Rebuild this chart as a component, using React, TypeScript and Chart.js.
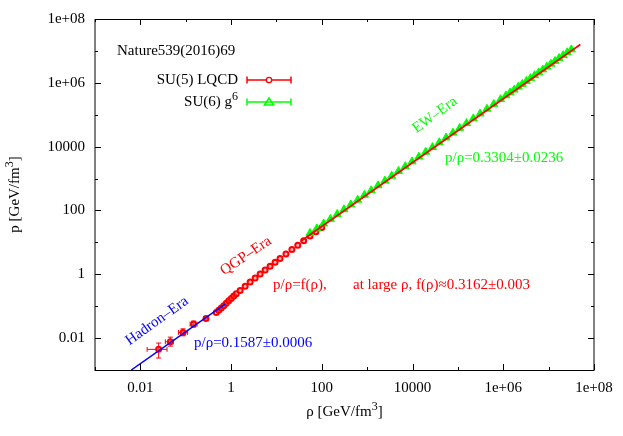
import React, { useEffect, useRef } from "react";
import { Chart, registerables } from "chart.js";
Chart.register(...registerables);

// ---------------- data ----------------
const decadeTicks = [0.001, 0.01, 0.1, 1, 10, 100, 1e3, 1e4, 1e5, 1e6, 1e7, 1e8];
const xTickLabels = ["", "0.01", "", "1", "", "100", "", "10000", "", "1e+06", "", "1e+08"];
const yTickLabels = ["", "0.01", "", "1", "", "100", "", "10000", "", "1e+06", "", "1e+08"];

// SU(5) lattice QCD points (rho, p)
const su5Rho = [0.0253, 0.0458, 0.0873, 0.149, 0.28,
  0.472, 0.536, 0.608, 0.69, 0.783, 0.889, 1.009, 1.146, 1.3, 1.585, 2.04, 2.63, 3.39, 4.37,
  5.62, 7.24, 9.33, 12.0, 16.2, 21.9, 29.5, 39.8, 55.0, 74.1, 100];
const su5P = [0.00443, 0.00766, 0.0151, 0.0274, 0.0413,
  0.0637, 0.074, 0.087, 0.1035, 0.124, 0.1476, 0.1756, 0.2074, 0.2444, 0.312, 0.422, 0.571, 0.766, 1.023,
  1.354, 1.796, 2.37, 3.12, 4.31, 5.96, 8.17, 11.22, 15.8, 21.6, 29.4];
// error bars for the first SU(5) points
const su5ErrRhoLo = [0.0141, 0.0355, 0.069, 0.125, 0.25];
const su5ErrRhoHi = [0.0387, 0.0533, 0.11, 0.178, 0.31];
const su5ErrPLo = [0.00237, 0.0056, 0.0118, 0.0221, 0.037];
const su5ErrPHi = [0.00698, 0.0107, 0.0195, 0.0340, 0.046];

// SU(6) g^6 perturbative points (rho, p)
const su6Rho = [55.0, 77.6, 109.6, 154.9, 218.8, 309.0, 436.5, 616.6, 871.0, 1230, 1738, 2455, 3467,
  4898, 6918, 9772, 13800, 19500, 27540, 38900, 54950, 77620, 109600, 154900, 218800, 309000,
  436500, 616600, 871000, 1.148e6, 1.413e6, 1.738e6, 2.138e6, 2.63e6, 3.236e6, 3.981e6, 4.898e6,
  6.026e6, 7.413e6, 9.12e6, 1.122e7, 1.38e7, 1.698e7, 2.089e7, 2.57e7, 3.162e7];
const su6P = [19.6, 27.2, 38.6, 53.9, 77.0, 107.5, 153.2, 214.6, 305.7, 428, 610, 855, 1210,
  1714, 2415, 3420, 4820, 6830, 9610, 13620, 19180, 27170, 38250, 54220, 76360, 108150,
  152300, 215800, 304000, 4.01e5, 4.95e5, 6.07e5, 7.48e5, 9.18e5, 1.133e6, 1.389e6, 1.714e6,
  2.103e6, 2.595e6, 3.183e6, 3.927e6, 4.816e6, 5.943e6, 7.29e6, 8.995e6, 1.104e7];

// fit lines
const hadronFitRho = [0.0063, 0.75];
const hadronFitP = [0.001, 0.119];
const qgpFitRho = [35, 5.0e7];
const qgpFitP = [11.07, 1.58e7];

// ---------------- helpers ----------------
const FONT = '"Liberation Serif", "Times New Roman", serif';
const toXY = (xs: number[], ys: number[]) => xs.map((x, i) => ({ x, y: ys[i] }));

type Part = { t: string; sup?: boolean };
function drawRich(ctx: CanvasRenderingContext2D, parts: Part[], x: number, y: number,
  align: "left" | "center" | "right", size: number, color: string) {
  const base = `${size}px ${FONT}`;
  const supF = `${Math.round(size * 0.8)}px ${FONT}`;
  let total = 0;
  for (const p of parts) { ctx.font = p.sup ? supF : base; total += ctx.measureText(p.t).width; }
  let cx = align === "left" ? x : align === "center" ? x - total / 2 : x - total;
  ctx.textAlign = "left";
  ctx.textBaseline = "alphabetic";
  ctx.fillStyle = color;
  for (const p of parts) {
    ctx.font = p.sup ? supF : base;
    ctx.fillText(p.t, cx, p.sup ? y - size * 0.42 : y);
    cx += ctx.measureText(p.t).width;
  }
}

function rotText(ctx: CanvasRenderingContext2D, t: string, cx: number, cy: number, deg: number, color: string) {
  ctx.save();
  ctx.translate(cx, cy);
  ctx.rotate((-deg * Math.PI) / 180);
  ctx.font = `15px ${FONT}`;
  ctx.fillStyle = color;
  ctx.textAlign = "center";
  ctx.textBaseline = "middle";
  ctx.fillText(t, 0, 0);
  ctx.restore();
}

const decor = {
  id: "decor",
  beforeDatasetsDraw(chart: any) {
    const ctx: CanvasRenderingContext2D = chart.ctx;
    const xs = chart.scales.x, ys = chart.scales.y;
    ctx.save();
    ctx.strokeStyle = "#ff0000";
    ctx.lineWidth = 1;
    const cap = 2.5;
    for (let i = 0; i < su5ErrRhoLo.length; i++) {
      const px = xs.getPixelForValue(su5Rho[i]);
      const py = ys.getPixelForValue(su5P[i]);
      const x0 = xs.getPixelForValue(su5ErrRhoLo[i]);
      const x1 = xs.getPixelForValue(su5ErrRhoHi[i]);
      const y0 = ys.getPixelForValue(su5ErrPLo[i]);
      const y1 = ys.getPixelForValue(su5ErrPHi[i]);
      ctx.beginPath();
      ctx.moveTo(x0, py); ctx.lineTo(x1, py);
      ctx.moveTo(x0, py - cap); ctx.lineTo(x0, py + cap);
      ctx.moveTo(x1, py - cap); ctx.lineTo(x1, py + cap);
      ctx.moveTo(px, y0); ctx.lineTo(px, y1);
      ctx.moveTo(px - cap, y0); ctx.lineTo(px + cap, y0);
      ctx.moveTo(px - cap, y1); ctx.lineTo(px + cap, y1);
      ctx.stroke();
    }
    ctx.restore();
  },
  afterDraw(chart: any) {
    const ctx: CanvasRenderingContext2D = chart.ctx;
    const { left, right, top, bottom } = chart.chartArea;
    const xs = chart.scales.x, ys = chart.scales.y;
    ctx.save();
    // frame
    ctx.lineWidth = 1;
    ctx.strokeStyle = "#000";
    ctx.beginPath();
    ctx.moveTo(left, Math.round(top) + 0.5); ctx.lineTo(right, Math.round(top) + 0.5);
    ctx.moveTo(left, Math.round(bottom) + 0.5); ctx.lineTo(right, Math.round(bottom) + 0.5);
    ctx.stroke();
    ctx.strokeStyle = "#808080";
    ctx.lineWidth = 2;
    ctx.beginPath();
    ctx.moveTo(Math.round(left), top); ctx.lineTo(Math.round(left), bottom + 1);
    ctx.moveTo(Math.round(right), top); ctx.lineTo(Math.round(right), bottom + 1);
    ctx.stroke();
    // tick marks (inside, mirrored)
    ctx.strokeStyle = "#000";
    ctx.lineWidth = 1;
    ctx.beginPath();
    decadeTicks.forEach((v, i) => {
      const len = xTickLabels[i] ? 6 : 3;
      const px = Math.round(xs.getPixelForValue(v)) + 0.5;
      ctx.moveTo(px, bottom); ctx.lineTo(px, bottom - len);
      ctx.moveTo(px, top); ctx.lineTo(px, top + len);
    });
    decadeTicks.forEach((v, i) => {
      const len = yTickLabels[i] ? 6 : 3;
      const py = Math.round(ys.getPixelForValue(v)) + 0.5;
      ctx.moveTo(left, py); ctx.lineTo(left + len, py);
      ctx.moveTo(right, py); ctx.lineTo(right - len, py);
    });
    ctx.stroke();

    // axis titles
    drawRich(ctx, [{ t: "ρ [GeV/fm" }, { t: "3", sup: true }, { t: "]" }], (left + right) / 2, 416, "center", 15, "#000");
    ctx.save();
    ctx.translate(19, (top + bottom) / 2);
    ctx.rotate(-Math.PI / 2);
    drawRich(ctx, [{ t: "p [GeV/fm" }, { t: "3", sup: true }, { t: "]" }], 0, 0, "center", 15, "#000");
    ctx.restore();

    // legend
    drawRich(ctx, [{ t: "Nature539(2016)69" }], 117, 55, "left", 15, "#000");
    drawRich(ctx, [{ t: "SU(5) LQCD" }], 238, 84, "right", 15, "#000");
    drawRich(ctx, [{ t: "SU(6) g" }, { t: "6", sup: true }], 238, 106, "right", 15, "#000");
    const lx0 = 247, lx1 = 291, lxc = 269;
    [[80, "#ff0000"], [102, "#00ff00"]].forEach(([ly, col]: any) => {
      ctx.strokeStyle = col;
      ctx.lineWidth = 1.5;
      ctx.beginPath();
      ctx.moveTo(lx0, ly); ctx.lineTo(lx1, ly);
      ctx.moveTo(lx0, ly - 3.5); ctx.lineTo(lx0, ly + 3.5);
      ctx.moveTo(lx1, ly - 3.5); ctx.lineTo(lx1, ly + 3.5);
      ctx.stroke();
    });
    ctx.strokeStyle = "#ff0000";
    ctx.lineWidth = 1.3;
    ctx.fillStyle = "#fff";
    ctx.beginPath(); ctx.arc(lxc, 80, 2.7, 0, Math.PI * 2); ctx.fill(); ctx.stroke();
    ctx.strokeStyle = "#00ff00";
    ctx.lineWidth = 1.6;
    ctx.beginPath();
    ctx.moveTo(lxc, 98); ctx.lineTo(lxc + 4.5, 105); ctx.lineTo(lxc - 4.5, 105); ctx.closePath();
    ctx.stroke();

    // annotations
    rotText(ctx, "Hadron–Era", 157, 321, 35.5, "#0000ff");
    rotText(ctx, "QGP–Era", 246, 256, 34, "#ff0000");
    rotText(ctx, "EW–Era", 435, 115, 36, "#00ff00");
    drawRich(ctx, [{ t: "p/ρ=0.1587±0.0006" }], 194, 347, "left", 15, "#0000ff");
    drawRich(ctx, [{ t: "p/ρ=f(ρ)," }], 273, 289, "left", 15, "#ff0000");
    drawRich(ctx, [{ t: "at large ρ, f(ρ)≈0.3162±0.003" }], 353, 289, "left", 15, "#ff0000");
    drawRich(ctx, [{ t: "p/ρ=0.3304±0.0236" }], 445, 162, "left", 15, "#00ff00");
    ctx.restore();
  },
};

export default function App() {
  const ref = useRef<HTMLCanvasElement | null>(null);
  useEffect(() => {
    if (!ref.current) return;
    const tickFont = { family: FONT, size: 15 };
    const chart = new Chart(ref.current, {
      type: "scatter",
      data: {
        datasets: [
          {
            label: "qgp fit", data: toXY(qgpFitRho, qgpFitP), showLine: true,
            borderColor: "#ff0000", borderWidth: 1.7, pointRadius: 0,
          },
          {
            label: "hadron fit", data: toXY(hadronFitRho, hadronFitP), showLine: true,
            borderColor: "#0000ff", borderWidth: 1.5, pointRadius: 0,
          },
          {
            label: "SU(6) g6", data: toXY(su6Rho, su6P), showLine: false,
            pointStyle: "triangle", pointRadius: 4.6, borderWidth: 1,
            borderColor: "#00ff00", backgroundColor: "#00ff00",
          },
          {
            label: "SU(5) LQCD", data: toXY(su5Rho, su5P), showLine: false,
            pointStyle: "circle", pointRadius: 2.5, borderWidth: 2,
            borderColor: "#ff0000", backgroundColor: "rgba(255,120,120,0.5)",
          },
        ],
      },
      options: {
        animation: false,
        responsive: false,
        events: [],
        layout: { padding: { top: 18, right: 29, left: 0, bottom: 0 } },
        plugins: { legend: { display: false }, tooltip: { enabled: false }, title: { display: false } },
        scales: {
          x: {
            type: "logarithmic", min: 0.001, max: 1e8,
            grid: { display: false, drawTicks: false },
            border: { display: false },
            afterBuildTicks: (s: any) => { s.ticks = decadeTicks.map((v) => ({ value: v })); },
            afterFit: (s: any) => { s.height = 66; },
            ticks: {
              autoSkip: false, maxRotation: 0, padding: 9, color: "#000", font: tickFont,
              callback: (_v: any, i: number) => xTickLabels[i],
            },
          },
          y: {
            type: "logarithmic", min: 0.001, max: 1e8,
            grid: { display: false, drawTicks: false },
            border: { display: false },
            afterBuildTicks: (s: any) => { s.ticks = decadeTicks.map((v) => ({ value: v })); },
            afterFit: (s: any) => { s.width = 95; },
            ticks: {
              autoSkip: false, padding: 10, color: "#000", font: tickFont,
              callback: (_v: any, i: number) => yTickLabels[i],
            },
          },
        },
      },
      plugins: [decor],
    });
    return () => chart.destroy();
  }, []);
  return (
    <div style={{ position: "fixed", left: 0, top: 0, width: 623, height: 436, background: "#fff" }}>
      <canvas ref={ref} width={623} height={436} style={{ width: 623, height: 436 }} />
    </div>
  );
}
